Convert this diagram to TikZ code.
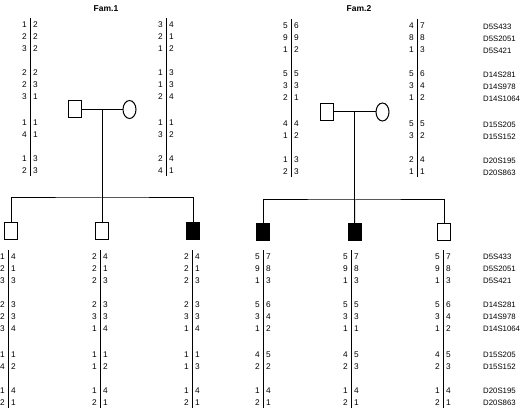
\documentclass[tikz,border=0pt]{standalone}
\usepackage{fontspec}
\setmainfont{Liberation Sans}
\usetikzlibrary{positioning,calc,shapes.geometric}
\tikzset{
  male/.style={rectangle,draw=black,line width=1pt,fill=white,minimum width=13pt,minimum height=17pt,inner sep=0pt},
  female/.style={ellipse,draw=black,line width=1pt,fill=white,minimum width=13pt,minimum height=18pt,inner sep=0pt},
  aff/.style={fill=black},
  link/.style={draw=black,line width=1pt},
  bar/.style={draw=black,line width=0.9pt},
  allele/.style={inner sep=0pt,font=\fontsize{8.3}{9}\selectfont},
  marker/.style={anchor=west,inner sep=0pt,font=\fontsize{7.8}{9}\selectfont},
  fam/.style={inner sep=0pt,font=\bfseries\fontsize{8.5}{10}\selectfont},
}
% name, bar x, first row y, allele pairs
\newcommand{\haplo}[4]{%
  \coordinate (#1-top) at (#2,#3-7);
  \coordinate (#1-bot) at (#2,#3+151);
  \draw[bar] (#1-top) -- (#1-bot);
  \foreach \a/\b [count=\i from 0] in {#4}{
    \pgfmathsetmacro\dy{{0,12,24,48,60,72,98,110,134,146}[\i]}
    \node[allele,anchor=east] (#1-l\i) at (#2-3,#3+\dy) {\a};
    \node[allele,anchor=west] (#1-r\i) at (#2+3,#3+\dy) {\b};
  }
}

\begin{document}
\begin{tikzpicture}[x=1pt,y=-1pt]
\useasboundingbox (0,0) rectangle (520,411);
\node[fam] (t1) at (106,9) {Fam.1};
\node[fam] (t2) at (359,9) {Fam.2};
% parents
\node[male] (fa1) at (74.5,109.5) {};
\node[female] (mo1) at (129.5,109.5) {};
\node[male] (fa2) at (327,112) {};
\node[female] (mo2) at (382.5,112) {};
% children
\node[male] (c11) at (11,231) {};
\node[male] (c12) at (102,231) {};
\node[male,aff] (c13) at (193,231) {};
\node[male,aff] (c21) at (263,232) {};
\node[male,aff] (c22) at (354.5,232) {};
\node[male] (c23) at (444,232) {};
% lines of descent
\coordinate (m1) at ($(fa1.east)!0.5!(mo1.west)$);
\coordinate (m2) at ($(fa2.east)!0.5!(mo2.west)$);
\coordinate (s1) at (m1 |- 0,198);
\coordinate (s2) at (m2 |- 0,200);
\draw[link] (fa1) -- (mo1);
\draw[link] (fa2) -- (mo2);
\draw[link] (m1) -- (s1);
\draw[link] (m2) -- (s2);
\draw[link] (c11.north) |- (s1) -| (c13.north);
\draw[link] (s1) -- (c12.north);
\draw[link] (c21.north) |- (s2) -| (c23.north);
\draw[link] (s2) -- (c22.north);
% haplotypes
\haplo{hfa1}{30}{25}{1/2,2/2,3/2,2/2,2/3,3/1,1/1,4/1,1/3,2/3}
\haplo{hmo1}{166}{25}{3/4,2/1,1/2,1/3,1/3,2/4,1/1,3/2,2/4,4/1}
\haplo{hfa2}{291}{26}{5/6,9/9,1/2,5/5,3/3,2/1,4/4,1/2,1/3,2/3}
\haplo{hmo2}{417}{26}{4/7,8/8,1/3,5/6,3/4,1/2,5/5,3/2,2/4,1/1}
\haplo{hc11}{8}{257}{1/4,2/1,3/3,2/3,2/3,3/4,1/1,4/2,1/4,2/1}
\haplo{hc12}{100}{257}{2/4,2/1,2/3,2/3,3/3,1/4,1/1,1/2,1/4,2/1}
\haplo{hc13}{192}{257}{2/4,2/1,2/3,2/3,3/3,1/4,1/1,1/3,1/4,2/1}
\haplo{hc21}{263}{257}{5/7,9/8,1/3,5/6,3/4,1/2,4/5,2/2,1/4,2/1}
\haplo{hc22}{351}{257}{5/7,9/8,1/3,5/5,3/3,1/1,4/5,2/3,1/4,2/1}
\haplo{hc23}{443}{257}{5/7,9/8,1/3,5/6,3/4,1/2,4/5,2/3,1/4,2/1}
% markers
\foreach \m [count=\i from 0] in {D5S433,D5S2051,D5S421,D14S281,D14S978,D14S1064,D15S205,D15S152,D20S195,D20S863}{
  \pgfmathsetmacro\dy{{0,12,24,48,60,72,98,110,134,146}[\i]}
  \node[marker] (mka\i) at (483,27+\dy) {\m};
  \node[marker] (mkb\i) at (483,257+\dy) {\m};
}
\end{tikzpicture}
\end{document}
